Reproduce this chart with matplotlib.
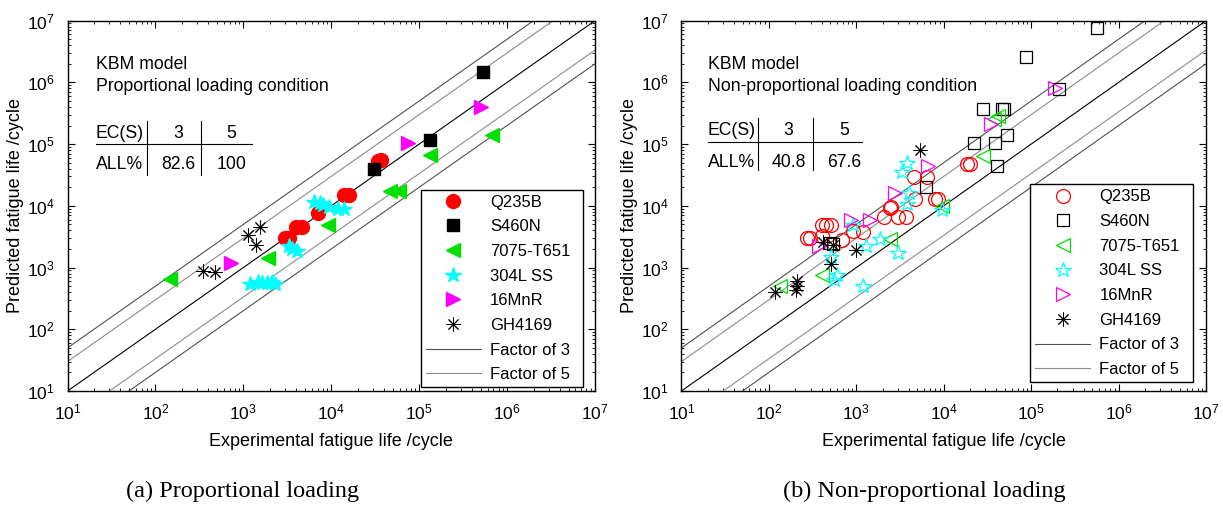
import numpy as np
import matplotlib
matplotlib.use("Agg")
import matplotlib.pyplot as plt
from matplotlib.ticker import LogLocator, NullFormatter, FixedLocator, FixedFormatter

plt.rcParams['font.family'] = 'Liberation Sans'
plt.rcParams['mathtext.fontset'] = 'custom'
plt.rcParams['mathtext.rm'] = 'Liberation Sans'

materials = ["Q235B", "S460N", "7075-T651", "304L SS", "16MnR", "GH4169"]

# ---- (a) proportional loading: experimental life, predicted life ----
prop_q235b_exp = [3.0e3, 3.3e3, 4.0e3, 4.6e3, 7.1e3, 1.4e4, 1.6e4, 3.4e4, 3.7e4]
prop_q235b_pred = [3.0e3, 3.0e3, 4.5e3, 4.5e3, 7.6e3, 1.5e4, 1.5e4, 5.4e4, 5.6e4]
prop_s460n_exp = [3.1e4, 1.32e5, 5.3e5]
prop_s460n_pred = [4.0e4, 1.18e5, 1.48e6]
prop_7075_exp = [145, 1.9e3, 9.1e3, 4.6e4, 5.9e4, 1.32e5, 6.7e5]
prop_7075_pred = [650, 1.45e3, 4.9e3, 1.75e4, 1.75e4, 6.6e4, 1.38e5]
prop_304l_exp = [1.2e3, 1.45e3, 1.65e3, 1.85e3, 2.1e3, 2.3e3, 3.3e3, 3.6e3, 4.1e3,
                 6.3e3, 7.5e3, 8.0e3, 9.5e3, 1.2e4, 1.4e4]
prop_304l_pred = [540, 580, 560, 570, 580, 550, 2.2e3, 2.0e3, 1.85e3,
                  1.15e4, 1.1e4, 1.05e4, 9.5e3, 8.8e3, 9.0e3]
prop_16mnr_exp = [720, 7.4e4, 5.1e5]
prop_16mnr_pred = [1.18e3, 1.05e5, 4.0e5]
prop_gh4169_exp = [350, 480, 1.12e3, 1.4e3, 1.55e3]
prop_gh4169_pred = [870, 860, 3.4e3, 2.3e3, 4.5e3]

# ---- (b) non-proportional loading ----
np_q235b_exp = [270, 295, 400, 400, 455, 510, 680, 910, 1.2e3, 2.05e3, 2.4e3, 2.5e3,
                3.0e3, 3.7e3, 4.7e3, 4.6e3, 6.5e3, 7.9e3, 8.7e3, 1.85e4, 2.0e4]
np_q235b_pred = [3.0e3, 3.0e3, 3.2e3, 4.9e3, 4.9e3, 4.9e3, 2.8e3, 3.9e3, 3.8e3, 6.6e3, 9.2e3, 9.5e3,
                 6.6e3, 6.6e3, 1.27e4, 2.9e4, 2.9e4, 1.27e4, 1.27e4, 4.7e4, 4.7e4]
np_s460n_exp = [500, 540, 6.3e3, 2.2e4, 2.8e4, 3.9e4, 4.1e4, 4.6e4, 4.9e4, 5.3e4, 8.7e4, 2.1e5, 5.6e5]
np_s460n_pred = [2.5e3, 2.4e3, 2.0e4, 1.03e5, 3.7e5, 1.03e5, 4.5e4, 3.7e5, 3.7e5, 1.4e5, 2.6e6, 7.7e5, 7.5e6]
np_7075_exp = [135, 400, 2.4e3, 9.5e3, 2.8e4, 3.8e4, 4.2e4]
np_7075_pred = [510, 750, 2.95e3, 1.0e4, 6.5e4, 2.6e5, 2.9e5]
np_304l_exp = [510, 550, 600, 910, 1.18e3, 1.3e3, 1.85e3, 3.0e3, 3.3e3, 3.8e3, 3.8e3, 4.0e3, 9.5e3]
np_304l_pred = [1.48e3, 620, 770, 4.9e3, 500, 2.2e3, 2.9e3, 1.75e3, 3.5e4, 5.0e4, 1.07e4, 1.6e4, 8.5e3]
np_16mnr_exp = [370, 860, 1.45e3, 2.8e3, 6.6e3, 3.5e4, 1.85e5]
np_16mnr_pred = [2.2e3, 5.8e3, 5.9e3, 1.6e4, 4.5e4, 2.15e5, 8.0e5]
np_gh4169_exp = [118, 205, 210, 210, 415, 540, 510, 1.0e3, 5.4e3]
np_gh4169_pred = [395, 430, 500, 600, 2.55e3, 2.3e3, 1.16e3, 1.9e3, 8.0e4]

table_cols = ["EC(S)", "3", "5"]
prop_ratio = ["ALL%", "82.6", "100"]
nonprop_ratio = ["ALL%", "40.8", "67.6"]

decades = [1, 2, 3, 4, 5, 6, 7]

colors = ["#ff0000", "#000000", "#00e000", "#00ffff", "#ff00ff", "#000000"]
marks = ["o", "s", "<", "*", ">", (8, 2, 0)]
sizes = [10, 8.5, 9.5, 11.5, 9.5, 10]

fig = plt.figure(figsize=(12.23, 5.08), dpi=100)
ax1 = fig.add_axes([0.0552, 0.2303, 0.4313, 0.729])
ax2 = fig.add_axes([0.5572, 0.2303, 0.4289, 0.729])


def draw_panel(ax, series, filled, title2, ratio, tpos, legbox):
    xx = np.array([1e1, 1e7])
    ax.plot(xx, xx, color='black', lw=0.8, zorder=2)
    for f in (3, 1 / 3):
        ax.plot(xx, xx * f, color='#8c8c8c', lw=0.8, zorder=2)
    for f in (5, 1 / 5):
        ax.plot(xx, xx * f, color='#505050', lw=0.8, zorder=2)
    handles = []
    for (ex, pr), name, c, m, s in zip(series, materials, colors, marks, sizes):
        if m == (8, 2, 0):
            h, = ax.plot(ex, pr, ls='none', marker=m, ms=s, color=c, mec=c, mew=0.7, zorder=3)
        elif filled:
            h, = ax.plot(ex, pr, ls='none', marker=m, ms=s, color=c, mec=c, zorder=3)
        else:
            h, = ax.plot(ex, pr, ls='none', marker=m, ms=s, color=c, mfc='none',
                         mec=c, mew=0.9, zorder=3)
        handles.append(h)
    h3, = ax.plot([], [], color='#505050', lw=0.8)
    h5, = ax.plot([], [], color='#8c8c8c', lw=0.8)
    leg = ax.legend(handles + [h3, h5], materials + ["Factor of 3", "Factor of 5"],
                    loc='lower left', bbox_to_anchor=legbox, mode='expand',
                    borderaxespad=0, fontsize=12, handlelength=3.3, handletextpad=0.55,
                    labelspacing=0.58, borderpad=0.3, fancybox=False,
                    framealpha=1, edgecolor='black')
    leg.get_frame().set_linewidth(1.0)

    ax.set_xscale('log')
    ax.set_yscale('log')
    ax.set_xlim(1e1, 1e7)
    ax.set_ylim(1e1, 1e7)
    ticks = [10.0 ** d for d in decades]
    labels = [r'$\mathregular{10^{%d}}$' % d for d in decades]
    for axis in (ax.xaxis, ax.yaxis):
        axis.set_major_locator(FixedLocator(ticks))
        axis.set_major_formatter(FixedFormatter(labels))
        axis.set_minor_locator(LogLocator(base=10, subs=np.arange(2, 10)))
        axis.set_minor_formatter(NullFormatter())
    ax.tick_params(which='both', direction='in', top=True, right=True, labelsize=12.5)
    ax.tick_params(which='major', length=5, width=0.8)
    ax.tick_params(axis='x', which='major', pad=8)
    ax.tick_params(axis='y', which='major', pad=9)
    ax.tick_params(which='minor', length=2.5, width=0.6)
    for sp in ax.spines.values():
        sp.set_linewidth(1.0)
    ax.set_xlabel('Experimental fatigue life /cycle', fontsize=13, labelpad=8)
    ax.set_ylabel('Predicted fatigue life /cycle', fontsize=13, labelpad=2)

    x0, xc1, xc2, xv1, xv2, xh1, yr1, yr2, yh, yv0, yv1 = tpos
    fs = 12.7
    ax.text(x0, 0.882, 'KBM model', transform=ax.transAxes, fontsize=fs, va='center')
    ax.text(x0, 0.823, title2, transform=ax.transAxes, fontsize=fs, va='center')
    ax.text(x0, yr1, table_cols[0], transform=ax.transAxes, fontsize=fs, va='center')
    ax.text(xc1, yr1, table_cols[1], transform=ax.transAxes, fontsize=fs, va='center', ha='center')
    ax.text(xc2, yr1, table_cols[2], transform=ax.transAxes, fontsize=fs, va='center', ha='center')
    ax.text(x0, yr2, ratio[0], transform=ax.transAxes, fontsize=fs, va='center')
    ax.text(xc1, yr2, ratio[1], transform=ax.transAxes, fontsize=fs, va='center', ha='center')
    ax.text(xc2, yr2, ratio[2], transform=ax.transAxes, fontsize=fs, va='center', ha='center')
    ax.plot([x0, xh1], [yh, yh], transform=ax.transAxes, color='black', lw=0.8)
    for xv in (xv1, xv2):
        ax.plot([xv, xv], [yv0, yv1], transform=ax.transAxes, color='black', lw=0.8)


prop_series = [(prop_q235b_exp, prop_q235b_pred), (prop_s460n_exp, prop_s460n_pred),
               (prop_7075_exp, prop_7075_pred), (prop_304l_exp, prop_304l_pred),
               (prop_16mnr_exp, prop_16mnr_pred), (prop_gh4169_exp, prop_gh4169_pred)]
nonprop_series = [(np_q235b_exp, np_q235b_pred), (np_s460n_exp, np_s460n_pred),
                  (np_7075_exp, np_7075_pred), (np_304l_exp, np_304l_pred),
                  (np_16mnr_exp, np_16mnr_pred), (np_gh4169_exp, np_gh4169_pred)]

draw_panel(ax1, prop_series, True, 'Proportional loading condition', prop_ratio,
           (0.054, 0.210, 0.311, 0.151, 0.253, 0.349, 0.696, 0.612, 0.666, 0.583, 0.730),
           (0.670, 0.010, 0.308, 0.544))
draw_panel(ax2, nonprop_series, False, 'Non-proportional loading condition', nonprop_ratio,
           (0.050, 0.204, 0.311, 0.146, 0.250, 0.344, 0.703, 0.618, 0.672, 0.596, 0.738),
           (0.665, 0.024, 0.311, 0.539))

fig.text(243 / 1223, 1 - 491 / 508, '(a) Proportional loading', family='Liberation Serif',
         fontsize=17.5, ha='center', va='center')
fig.text(924 / 1223, 1 - 491 / 508, '(b) Non-proportional loading', family='Liberation Serif',
         fontsize=17.5, ha='center', va='center')

fig.savefig('out.png', dpi=100)
